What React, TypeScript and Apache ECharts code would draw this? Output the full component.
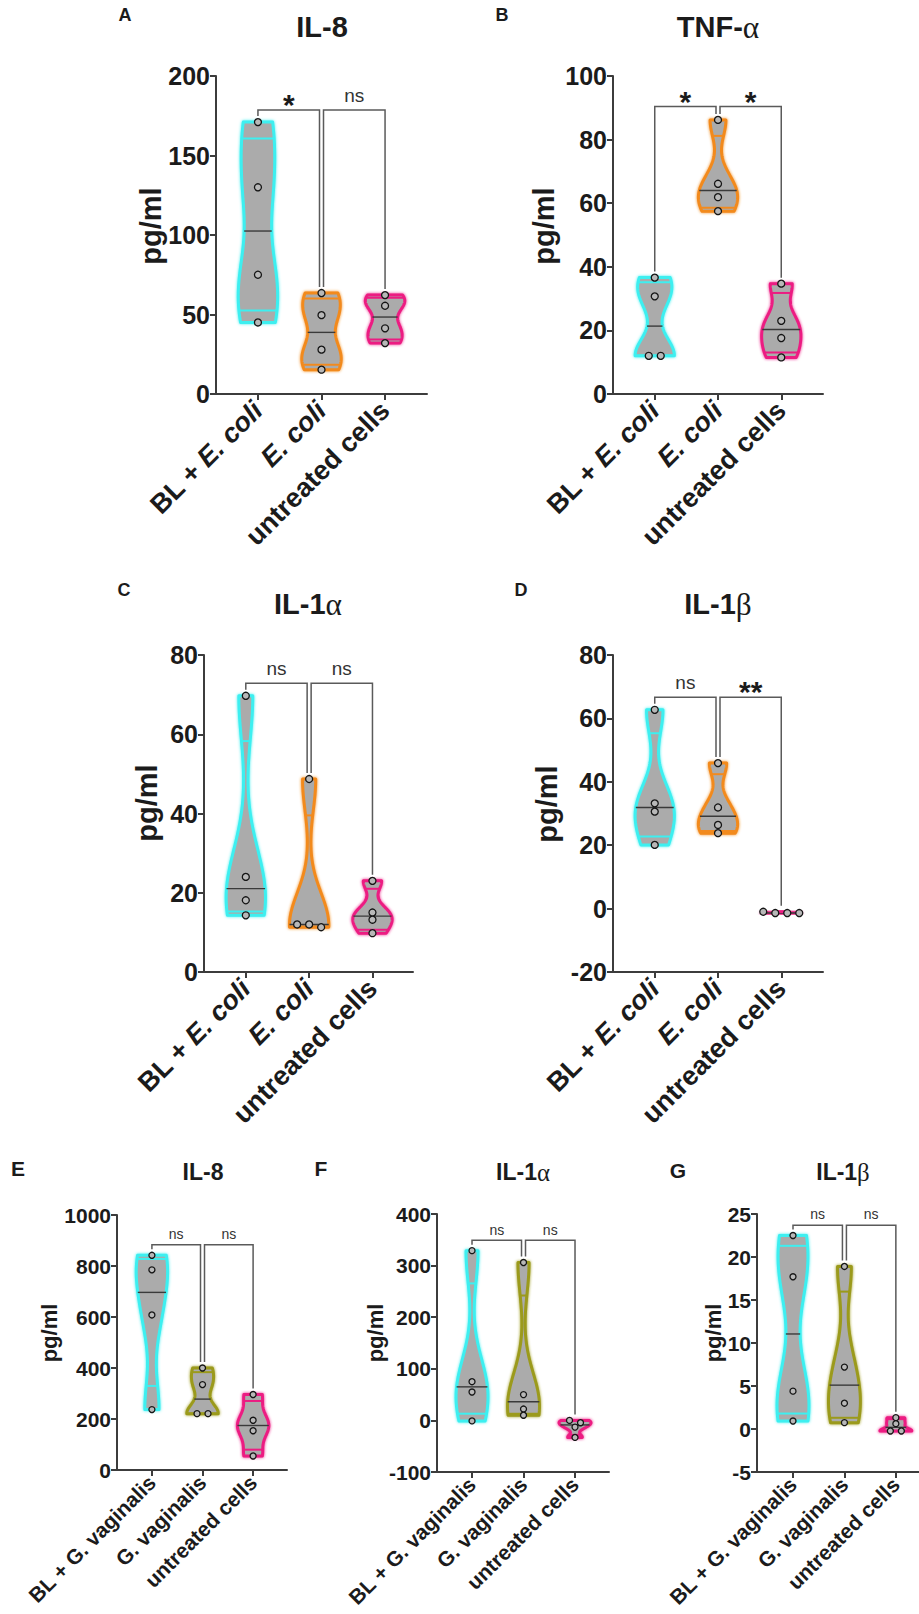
import React, { useEffect, useRef } from "react";
import * as echarts from "echarts";

// ---------------- categories ----------------
const ecoliCategories = ["BL + E. coli", "E. coli", "untreated cells"];
const gvagCategories = ["BL + G. vaginalis", "G. vaginalis", "untreated cells"];
const yAxisTitle = "pg/ml";

// comparisons drawn as brackets (group index pairs)
const comparisons = [
  [0, 1],
  [1, 2],
];

// ---------------- Panel A: IL-8 (E. coli) ----------------
const aBLEcoli = [45, 75, 130, 171];
const aEcoli = [15.3, 27.9, 49.6, 63.5];
const aUntreated = [32, 41.3, 55.5, 62.2];
const aYAxis = [0, 200, 50];
const aSignificance = ["*", "ns"];
const aBracketLevel = 178.6;

// ---------------- Panel B: TNF-α (E. coli) ----------------
const bBLEcoli = [12.0, 12.0, 30.7, 36.6];
const bEcoli = [57.5, 61.9, 66.1, 86.2];
const bUntreated = [11.5, 17.6, 23.0, 34.7];
const bYAxis = [0, 100, 20];
const bSignificance = ["*", "*"];
const bBracketLevel = 90.4;

// ---------------- Panel C: IL-1α (E. coli) ----------------
const cBLEcoli = [14.3, 18.1, 24.0, 69.7];
const cEcoli = [11.3, 12.0, 12.0, 48.7];
const cUntreated = [9.8, 13.2, 15.0, 23.0];
const cYAxis = [0, 80, 20];
const cSignificance = ["ns", "ns"];
const cBracketLevel = 72.9;

// ---------------- Panel D: IL-1β (E. coli) ----------------
const dBLEcoli = [20.1, 30.6, 33.2, 62.7];
const dEcoli = [23.8, 26.4, 31.9, 45.9];
const dUntreated = [-1.4, -1.0, -1.4, -1.4];
const dYAxis = [-20, 80, 20];
const dSignificance = ["ns", "**"];
const dBracketLevel = 66.7;

// ---------------- Panel E: IL-8 (G. vaginalis) ----------------
const eBLGvag = [237, 608, 785, 842];
const eGvag = [221, 221, 335, 400];
const eUntreated = [55, 154, 195, 296];
const eYAxis = [0, 1000, 200];
const eSignificance = ["ns", "ns"];
const eBracketLevel = 883;

// ---------------- Panel F: IL-1α (G. vaginalis) ----------------
const fBLGvag = [-1, 55, 75, 329];
const fGvag = [10, 22, 50, 306];
const fUntreated = [-33, -13, -4.5, 0];
const fYAxis = [-100, 400, 100];
const fSignificance = ["ns", "ns"];
const fBracketLevel = 349;

// ---------------- Panel G: IL-1β (G. vaginalis) ----------------
const gBLGvag = [0.93, 4.4, 17.7, 22.5];
const gGvag = [0.74, 3.0, 7.2, 18.9];
const gUntreated = [-0.23, -0.23, 0.62, 1.32];
const gYAxis = [-5, 25, 5];
const gSignificance = ["ns", "ns"];
const gBracketLevel = 23.7;

// ---------------- styles ----------------
const FONT = '"Liberation Sans", Arial, Helvetica, sans-serif';
const SERIF = '"Liberation Serif", "DejaVu Serif", serif';
const CYAN = "#3DEFF0";
const ORANGE = "#F28A1E";
const PINK = "#EC1C82";
const OLIVE = "#9B9A1B";
const FILL = "#ABABAB";
const TXT = "#1b1b1b";
const AX = "#3c3c3c";
const BR = "#5a5a5a";

const panels = [
  { letter: "A", title: "IL-8", cats: ecoliCategories, italic: true, groups: [aBLEcoli, aEcoli, aUntreated], colors: [CYAN, ORANGE, PINK], y: aYAxis, sig: aSignificance, level: aBracketLevel },
  { letter: "B", title: "TNF-α", cats: ecoliCategories, italic: true, groups: [bBLEcoli, bEcoli, bUntreated], colors: [CYAN, ORANGE, PINK], y: bYAxis, sig: bSignificance, level: bBracketLevel },
  { letter: "C", title: "IL-1α", cats: ecoliCategories, italic: true, groups: [cBLEcoli, cEcoli, cUntreated], colors: [CYAN, ORANGE, PINK], y: cYAxis, sig: cSignificance, level: cBracketLevel },
  { letter: "D", title: "IL-1β", cats: ecoliCategories, italic: true, groups: [dBLEcoli, dEcoli, dUntreated], colors: [CYAN, ORANGE, PINK], y: dYAxis, sig: dSignificance, level: dBracketLevel },
  { letter: "E", title: "IL-8", cats: gvagCategories, italic: false, groups: [eBLGvag, eGvag, eUntreated], colors: [CYAN, OLIVE, PINK], y: eYAxis, sig: eSignificance, level: eBracketLevel },
  { letter: "F", title: "IL-1α", cats: gvagCategories, italic: false, groups: [fBLGvag, fGvag, fUntreated], colors: [CYAN, OLIVE, PINK], y: fYAxis, sig: fSignificance, level: fBracketLevel },
  { letter: "G", title: "IL-1β", cats: gvagCategories, italic: false, groups: [gBLGvag, gGvag, gUntreated], colors: [CYAN, OLIVE, PINK], y: gYAxis, sig: gSignificance, level: gBracketLevel },
];

const BIG = { tick: 25, xl: 27, xm: 12, name: 29, title: 29, letter: 18, star: 30, ns: 19, r: 3.5, sp: 12, hw: 0.31 };
const SMALL = { tick: 21, xl: 21, xm: 9, name: 22, title: 23, letter: 21, star: 22, ns: 14, r: 3, sp: 11, hw: 0.31 };

const layouts = [
  { grid: [216, 76, 211, 318], xr: [-0.66, 2.66], letterPos: [125, 15], titlePos: [322, 27], namePos: [151, 226], big: true },
  { grid: [613, 76, 210, 318], xr: [-0.66, 2.66], letterPos: [502, 15], titlePos: [718, 27], namePos: [544, 226], big: true },
  { grid: [204, 655, 209, 317], xr: [-0.66, 2.64], letterPos: [124, 590], titlePos: [308, 604], namePos: [147, 803], big: true },
  { grid: [613, 655, 210, 317], xr: [-0.66, 2.66], letterPos: [521, 590], titlePos: [718, 604], namePos: [547, 804], big: true },
  { grid: [117, 1215, 170, 255], xr: [-0.69, 2.67], letterPos: [18, 1168], titlePos: [203, 1172], namePos: [49, 1333], big: false },
  { grid: [437, 1214, 172, 258], xr: [-0.68, 2.66], letterPos: [321, 1168], titlePos: [523, 1172], namePos: [375, 1333], big: false },
  { grid: [757, 1214, 162, 258], xr: [-0.7, 2.45], letterPos: [678, 1170], titlePos: [843, 1172], namePos: [713, 1333], big: false },
];

// ---------------- helpers ----------------
function quant(sorted: number[], p: number) {
  const n = sorted.length;
  let pos = (n + 1) * p;
  if (pos < 1) pos = 1;
  if (pos > n) pos = n;
  const lo = Math.floor(pos);
  const f = pos - lo;
  if (lo >= n) return sorted[n - 1];
  return sorted[lo - 1] + f * (sorted[lo] - sorted[lo - 1]);
}

function kdeProfile(vals: number[]) {
  const s = [...vals].sort((a, b) => a - b);
  const n = s.length;
  const lo = s[0];
  const hi = s[n - 1];
  const mean = s.reduce((a, b) => a + b, 0) / n;
  const sd = Math.sqrt(s.reduce((a, b) => a + (b - mean) * (b - mean), 0) / (n - 1));
  const iqr = quant(s, 0.75) - quant(s, 0.25);
  let spread = Math.min(sd, iqr / 1.34);
  if (!(spread > 0)) spread = sd;
  const h = 0.65 * 0.9 * spread * Math.pow(n, -0.2);
  const N = 90;
  const ys: number[] = [];
  const d: number[] = [];
  for (let k = 0; k <= N; k++) {
    const y = lo + ((hi - lo) * k) / N;
    let dens = 0;
    if (h > 0) {
      for (const v of s) {
        const z = (y - v) / h;
        dens += Math.exp(-0.5 * z * z);
      }
    } else dens = 1;
    ys.push(y);
    d.push(dens);
  }
  const mx = Math.max(...d);
  return { ys, d: d.map((v) => v / mx), lo, hi };
}

function widthAt(prof: { ys: number[]; d: number[]; lo: number; hi: number }, y: number) {
  const { ys, d } = prof;
  if (ys[ys.length - 1] === ys[0]) return d[0];
  if (y <= ys[0]) return d[0];
  if (y >= ys[ys.length - 1]) return d[d.length - 1];
  for (let k = 1; k < ys.length; k++) {
    if (y <= ys[k]) {
      const t = (y - ys[k - 1]) / (ys[k] - ys[k - 1]);
      return d[k - 1] + t * (d[k] - d[k - 1]);
    }
  }
  return d[d.length - 1];
}

function violinRenderer(groups: number[][], colors: string[], S: any) {
  const profiles = groups.map(kdeProfile);
  return (params: any, api: any) => {
    const gi = params.dataIndex;
    const vals = groups[gi];
    const prof = profiles[gi];
    const color = colors[gi];
    const right: number[][] = [];
    const left: number[][] = [];
    prof.ys.forEach((y, k) => {
      right.push(api.coord([gi + S.hw * prof.d[k], y]));
      left.push(api.coord([gi - S.hw * prof.d[k], y]));
    });
    const poly = right.concat(left.reverse());
    const children: any[] = [
      {
        type: "polygon",
        shape: { points: poly },
        style: { fill: FILL, stroke: color, lineWidth: 3, lineJoin: "round", shadowBlur: 3, shadowColor: color },
      },
    ];
    const sorted = [...vals].sort((a, b) => a - b);
    const qs = [quant(sorted, 0.25), quant(sorted, 0.5), quant(sorted, 0.75)];
    qs.forEach((qv, k) => {
      const w = S.hw * widthAt(prof, qv);
      const p1 = api.coord([gi - w, qv]);
      const p2 = api.coord([gi + w, qv]);
      children.push({
        type: "line",
        shape: { x1: p1[0], y1: p1[1], x2: p2[0], y2: p2[1] },
        style: { stroke: k === 1 ? "#3a3a3a" : color, lineWidth: k === 1 ? 1.4 : 2 },
      });
    });
    // beeswarm points
    const desc = [...vals].sort((a, b) => b - a);
    const pts = desc.map((v) => api.coord([gi, v]));
    const rows: number[][][] = [];
    pts.forEach((p) => {
      const row = rows[rows.length - 1];
      if (row && Math.abs(p[1] - row[0][1]) < S.r * 1.6) row.push(p);
      else rows.push([p]);
    });
    rows.forEach((row) => {
      row.forEach((p, k) => {
        const off = (k - (row.length - 1) / 2) * S.sp;
        children.push({
          type: "circle",
          shape: { cx: p[0] + off, cy: p[1], r: S.r },
          style: { fill: "#B8B8B8", stroke: "#151515", lineWidth: 1.3 },
        });
      });
    });
    return { type: "group", children };
  };
}

function bracketRenderer(groups: number[][], sig: string[], level: number, S: any) {
  return (params: any, api: any) => {
    const [i, j] = comparisons[params.dataIndex];
    const yL = api.coord([0, level])[1];
    const leg = (g: number, isLeftEnd: boolean) => {
      const c = api.coord([g, Math.max(...groups[g])]);
      const off = g === 1 ? (isLeftEnd ? 2 : -2) : 0;
      return [c[0] + off, c[1] - 6];
    };
    const a = leg(i, true);
    const b = leg(j, false);
    const label = sig[params.dataIndex];
    const isStar = label.indexOf("*") >= 0;
    const fs = isStar ? S.star : S.ns;
    return {
      type: "group",
      children: [
        {
          type: "polyline",
          shape: { points: [[a[0], a[1]], [a[0], yL], [b[0], yL], [b[0], b[1]]] },
          style: { stroke: BR, lineWidth: 1.5, fill: null },
        },
        {
          type: "text",
          x: (a[0] + b[0]) / 2,
          y: isStar ? yL - 5.5 : yL - 0.77 * fs,
          style: {
            text: label,
            fontFamily: FONT,
            fontSize: fs,
            fontWeight: isStar ? "bold" : "normal",
            fill: isStar ? TXT : "#333",
            align: "center",
            verticalAlign: "middle",
          },
        },
      ],
    };
  };
}

function catLabel(text: string, italic: boolean) {
  if (!italic) return text;
  return text.replace(/(E\. coli)/, "{i|$1}");
}

function greekRich(text: string) {
  return text.replace(/([α-ω])/g, "{g|$1}");
}

function buildOption() {
  const grid: any[] = [];
  const xAxis: any[] = [];
  const yAxis: any[] = [];
  const series: any[] = [];
  const graphic: any[] = [];
  panels.forEach((p, k) => {
    const L = layouts[k];
    const S = L.big ? BIG : SMALL;
    grid.push({
      left: L.grid[0],
      top: L.grid[1],
      width: L.grid[2],
      height: L.grid[3],
      containLabel: false,
      outerBoundsMode: "none",
    });
    xAxis.push({
      type: "value",
      gridIndex: k,
      min: L.xr[0],
      max: L.xr[1],
      splitLine: { show: false },
      axisLine: { show: true, onZero: false, lineStyle: { color: AX, width: 2 } },
      axisTick: { show: true, customValues: [0, 1, 2], length: 6, lineStyle: { color: AX, width: 2 } },
      axisLabel: {
        customValues: [0, 1, 2],
        rotate: 45,
        margin: S.xm,
        formatter: (v: number) => catLabel(p.cats[Math.round(v)], p.italic),
        fontSize: S.xl,
        fontWeight: "bold",
        fontFamily: FONT,
        color: TXT,
        rich: {
          i: { fontStyle: "italic", fontWeight: "bold", fontSize: S.xl, fontFamily: FONT, color: TXT },
        },
      },
    });
    yAxis.push({
      type: "value",
      gridIndex: k,
      min: p.y[0],
      max: p.y[1],
      interval: p.y[2],
      splitLine: { show: false },
      axisLine: { show: true, onZero: false, lineStyle: { color: AX, width: 2 } },
      axisTick: { show: true, length: 6, lineStyle: { color: AX, width: 2 } },
      axisLabel: {
        margin: 6,
        fontSize: S.tick,
        fontWeight: "bold",
        fontFamily: FONT,
        color: TXT,
        formatter: (v: number) => String(v),
      },
    });
    series.push({
      type: "custom",
      xAxisIndex: k,
      yAxisIndex: k,
      silent: true,
      data: p.groups.map((g, i) => [i, Math.max(...g)]),
      encode: { x: 0, y: 1 },
      renderItem: violinRenderer(p.groups, p.colors, S),
      z: 2,
    });
    series.push({
      type: "custom",
      xAxisIndex: k,
      yAxisIndex: k,
      silent: true,
      data: comparisons.map((c) => [c[0], p.level]),
      encode: { x: 0, y: 1 },
      renderItem: bracketRenderer(p.groups, p.sig, p.level, S),
      z: 3,
    });
    graphic.push({
      type: "text",
      x: L.letterPos[0],
      y: L.letterPos[1],
      style: {
        text: p.letter,
        fontFamily: FONT,
        fontSize: S.letter,
        fontWeight: "bold",
        fill: TXT,
        align: "center",
        verticalAlign: "middle",
      },
    });
    graphic.push({
      type: "text",
      x: L.titlePos[0],
      y: L.titlePos[1],
      style: {
        text: greekRich(p.title),
        fontFamily: FONT,
        fontSize: S.title,
        fontWeight: "bold",
        fill: TXT,
        align: "center",
        verticalAlign: "middle",
        rich: {
          g: { fontFamily: SERIF, fontWeight: "normal", fontSize: S.title * 1.08, fill: TXT, color: TXT },
        },
      },
    });
    graphic.push({
      type: "text",
      x: L.namePos[0],
      y: L.namePos[1],
      rotation: Math.PI / 2,
      style: {
        text: yAxisTitle,
        fontFamily: FONT,
        fontSize: S.name,
        fontWeight: "bold",
        fill: TXT,
        align: "center",
        verticalAlign: "middle",
      },
    });
  });
  return {
    animation: false,
    backgroundColor: "#ffffff",
    textStyle: { fontFamily: FONT },
    grid,
    xAxis,
    yAxis,
    series,
    graphic,
  };
}

export default function App() {
  const ref = useRef<HTMLDivElement>(null);
  useEffect(() => {
    document.body.style.margin = "0";
    const chart = echarts.init(ref.current as HTMLDivElement, null, { renderer: "svg" });
    chart.setOption(buildOption() as any);
    return () => chart.dispose();
  }, []);
  return <div ref={ref} style={{ width: 919, height: 1614 }} />;
}
